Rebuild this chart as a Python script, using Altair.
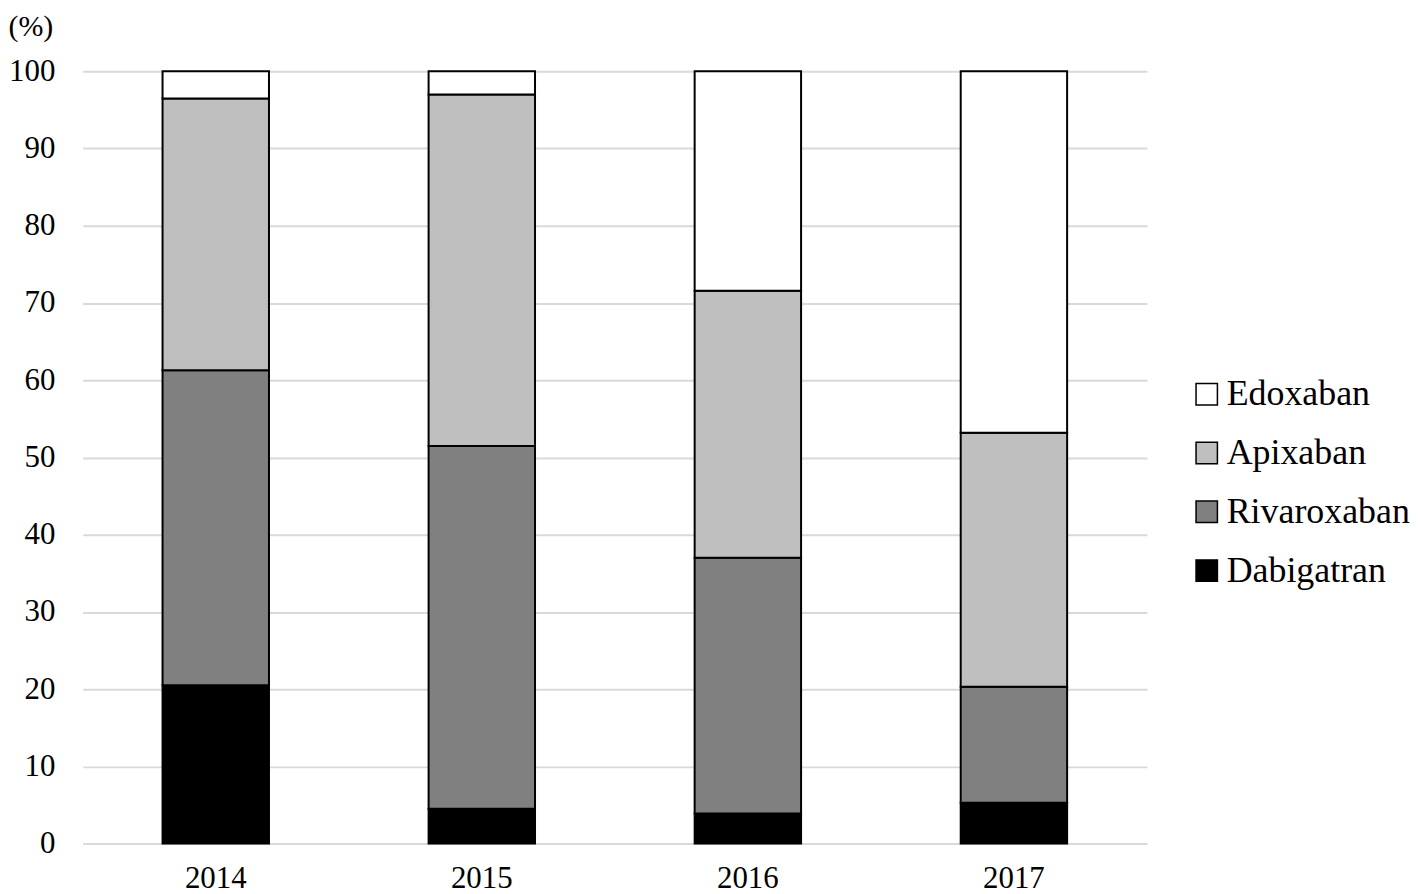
import altair as alt
import pandas as pd

years = ["2014", "2015", "2016", "2017"]
drugs = ["Edoxaban", "Apixaban", "Rivaroxaban", "Dabigatran"]
colors = ["#ffffff", "#bfbfbf", "#808080", "#000000"]
dabigatran = [20.5, 4.5, 3.9, 5.3]
rivaroxaban = [40.8, 47.0, 33.1, 15.0]
apixaban = [35.2, 45.5, 34.6, 32.9]
edoxaban = [3.5, 3.0, 28.4, 46.8]
y_ticks = [0, 10, 20, 30, 40, 50, 60, 70, 80, 90, 100]

series = {"Dabigatran": dabigatran, "Rivaroxaban": rivaroxaban,
          "Apixaban": apixaban, "Edoxaban": edoxaban}
stack_order = {"Dabigatran": 0, "Rivaroxaban": 1, "Apixaban": 2, "Edoxaban": 3}
rows = []
for name, vals in series.items():
    for yr, v in zip(years, vals):
        rows.append({"year": yr, "drug": name, "value": v, "ord": stack_order[name]})
df = pd.DataFrame(rows)

FONT = "Liberation Serif"

chart = alt.Chart(df).mark_bar(stroke="black", strokeWidth=2).encode(
    x=alt.X("year:N", sort=years,
            scale=alt.Scale(paddingInner=0.6, paddingOuter=0.3),
            axis=alt.Axis(title=None, labelAngle=0, ticks=False, domain=False,
                          grid=False, labelFont=FONT, labelFontSize=31,
                          labelColor="black", labelPadding=20)),
    y=alt.Y("value:Q", stack="zero",
            scale=alt.Scale(domain=[0, 100], nice=False),
            axis=alt.Axis(title="(%)", titleAngle=0, titleAlign="left",
                          titleBaseline="top", titleX=-75, titleY=-60,
                          titleFont=FONT, titleFontSize=30, titleFontWeight="normal",
                          titleColor="black",
                          values=y_ticks, ticks=False, domain=False,
                          gridColor="#d9d9d9", gridWidth=2,
                          labelFont=FONT, labelFontSize=31, labelColor="black",
                          labelPadding=28)),
    color=alt.Color("drug:N",
                    scale=alt.Scale(domain=drugs, range=colors),
                    legend=alt.Legend(title=None, orient="none",
                                      legendX=1110, legendY=306,
                                      symbolType="square", symbolSize=460,
                                      symbolStrokeColor="black",
                                      symbolStrokeWidth=1.5,
                                      labelFont=FONT, labelFontSize=36,
                                      labelColor="black", labelOffset=2,
                                      labelLimit=0,
                                      rowPadding=23)),
    order=alt.Order("ord:Q", sort="ascending"),
).properties(
    width=1068, height=775,
    padding={"left": 0, "top": 2, "right": 0, "bottom": 0},
).configure_view(stroke=None)

chart.save("out.html", embed_options={"renderer": "svg", "actions": False})
